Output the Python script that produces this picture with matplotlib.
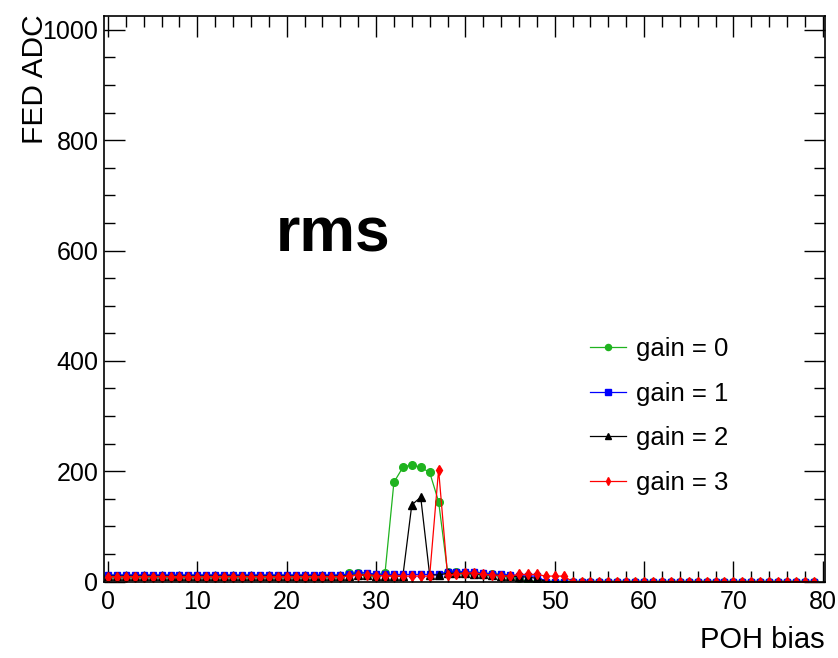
import matplotlib
matplotlib.use("Agg")
import matplotlib.pyplot as plt
import numpy as np

plt.rcParams['font.family'] = ['Liberation Sans', 'DejaVu Sans']

x = list(range(80))

gain0 = ([10]*27 + [15, 15, 12, 12, 15, 180, 207, 212, 207, 198, 145, 18,
          17, 16, 15, 14, 13, 12, 10, 6, 0, 0] + [0]*31)
gain1 = ([12]*27 + [14, 16, 16, 13, 13, 13, 13, 13, 13, 13, 13, 18,
          18, 18, 17, 15, 14, 13, 12, 11, 10, 10] + [0]*31)
gain2 = ([10]*27 + [11, 12, 12, 11, 11, 10, 10, 139, 153, 12, 12, 15,
          15, 15, 14, 13, 12, 11, 10, 9, 8, 6] + [0]*31)
gain3 = ([9]*27 + [10, 12, 12, 11, 11, 10, 10, 10, 10, 10, 203, 12,
          14, 15, 16, 13, 12, 11, 10, 13, 13, 13, 10, 10, 10] + [0]*28)

series = [
    ("gain = 0", gain0, "#1fb31f", "o", 5.5),
    ("gain = 1", gain1, "#0000ff", "s", 5.0),
    ("gain = 2", gain2, "#000000", "^", 5.5),
    ("gain = 3", gain3, "#ff0000", "d", 5.0),
]

fig = plt.figure(figsize=(8.38, 6.58), dpi=100)
ax = fig.add_axes([104/838, 1-581.6/658, (825-104)/838, (581.6-16)/658])

handles = []
for label, vals, col, mk, ms in series:
    h, = ax.plot(x, vals, color=col, lw=0.9, marker=mk, ms=ms,
                 mec=col, mfc=col, label=label)
    handles.append(h)

ax.set_xlim(-0.45, 80.25)
ax.set_ylim(0, 1025)
ax.set_xticks(np.arange(0, 81, 10))
ax.set_xticks(np.arange(0, 81, 2), minor=True)
ax.set_yticks(np.arange(0, 1001, 200))
ax.set_yticks(np.arange(0, 1001, 50), minor=True)
ax.tick_params(which='both', direction='in', top=True, right=True,
               labelsize=18, width=1.0)
ax.tick_params(which='major', length=15)
ax.tick_params(which='minor', length=8)
ax.tick_params(axis='x', pad=6)
ax.tick_params(axis='y', pad=4)
for s in ax.spines.values():
    s.set_linewidth(1.2)

ax.text(25.2, 629, "rms", fontsize=45, fontweight='bold',
        ha='center', va='center')

fig.text(35/838, 1-14/658, "FED ADC", rotation=90, ha='center', va='top',
         fontsize=21.5)
fig.text(825/838, 1-640/658, "POH bias", ha='right', va='center',
         fontsize=21)

ax.legend(handles=handles, loc='center left',
          bbox_to_anchor=(590/838, 1-416/658), bbox_transform=fig.transFigure,
          frameon=False, fontsize=18.5, handlelength=1.4, handletextpad=0.4,
          labelspacing=0.8, borderpad=0, borderaxespad=0, markerscale=0.8)

fig.savefig("out.png", dpi=100)
